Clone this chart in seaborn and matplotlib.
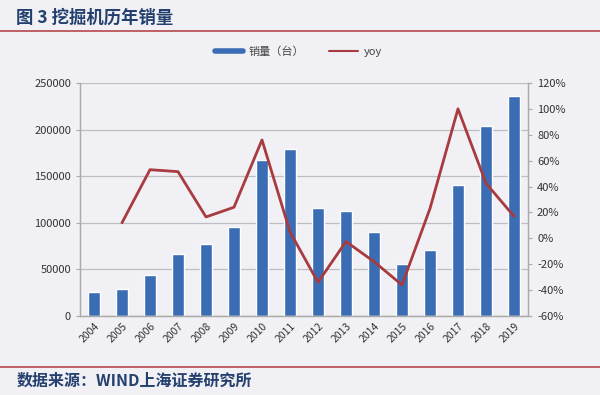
import numpy as np
import pandas as pd
import matplotlib.pyplot as plt
import seaborn as sns
from matplotlib.lines import Line2D
from matplotlib.ticker import FixedLocator

years = ['2004', '2005', '2006', '2007', '2008', '2009', '2010', '2011',
         '2012', '2013', '2014', '2015', '2016', '2017', '2018', '2019']
sales = [25400, 28600, 44000, 66200, 77200, 95500, 167400, 178900,
         115900, 112700, 90100, 56100, 70500, 140200, 203900, 236400]
yoy = [np.nan, 12, 53, 51.5, 16.5, 24, 76, 5, -34, -2.5, -18, -36, 23, 100, 42.5, 17]

bar_color = '#3B6DB5'
line_color = '#A83B3F'
navy = '#24406E'
bg = '#F1F0F4'

sns.set_style('white')
plt.rcParams['font.family'] = ['Noto Sans CJK SC', 'DejaVu Sans']

df = pd.DataFrame({'year': years, 'sales': sales, 'yoy': yoy})

fig = plt.figure(figsize=(6, 3.95), dpi=100, facecolor=bg)
ax = fig.add_axes([0.1333, 0.2, 0.7467, 0.59])
ax.set_facecolor(bg)

# bars: yearly sales
sns.barplot(data=df, x='year', y='sales', color=bar_color, saturation=1,
            width=0.4, ax=ax)
ax.set_ylim(0, 250000)
ax.set_yticks(range(0, 250001, 50000))
ax.yaxis.grid(True, color='#BDBDC2', lw=0.9)
ax.set_axisbelow(True)
ax.set_xlabel('')
ax.set_ylabel('')
ax.tick_params(axis='y', labelsize=8, colors='#333333', length=3, color='#AAAAAA')
ax.tick_params(axis='x', which='major', labelsize=7.5, colors='#333333', length=0)
plt.setp(ax.get_xticklabels(), rotation=45, ha='right', rotation_mode='anchor')
ax.set_xlim(-0.5, len(years) - 0.5)
ax.xaxis.set_minor_locator(FixedLocator([i + 0.5 for i in range(-1, len(years))]))
ax.tick_params(axis='x', which='minor', length=3, color='#AAAAAA')

# line: yoy growth on secondary axis
ax2 = ax.twinx()
sns.lineplot(data=df.dropna(), x='year', y='yoy', color=line_color, lw=2,
             ax=ax2, legend=False)
ax2.set_ylim(-60, 120)
ax2.set_yticks(range(-60, 121, 20))
ax2.set_yticklabels([f'{v}%' for v in range(-60, 121, 20)])
ax2.set_ylabel('')
ax2.tick_params(axis='y', labelsize=8, colors='#333333', length=3, color='#AAAAAA')

for a in (ax, ax2):
    a.spines['top'].set_visible(False)
    for s in ('left', 'right', 'bottom'):
        a.spines[s].set_color('#AAAAAA')
        a.spines[s].set_linewidth(0.9)

handles = [Line2D([], [], color=bar_color, lw=4), Line2D([], [], color=line_color, lw=1.5)]
fig.legend(handles, ['销量（台）', 'yoy'], loc='center', bbox_to_anchor=(0.497, 0.87),
           ncol=2, frameon=False, fontsize=8, handlelength=2.6, handletextpad=0.5,
           columnspacing=2.2, labelcolor='#444444')

fig.text(0.027, 0.955, '图 3 挖掘机历年销量', fontsize=12.5, fontweight='bold',
         color=navy, va='center')
fig.add_artist(Line2D([0.0, 1.0], [0.922, 0.922], color='#B5474C', lw=1.2))
fig.add_artist(Line2D([0.0, 1.0], [0.072, 0.072], color='#B5474C', lw=1.2))
fig.text(0.027, 0.035, '数据来源：WIND上海证券研究所', fontsize=11.5, fontweight='bold',
         style='italic', color=navy, va='center')

fig.savefig('out.png', dpi=100, facecolor=bg)
